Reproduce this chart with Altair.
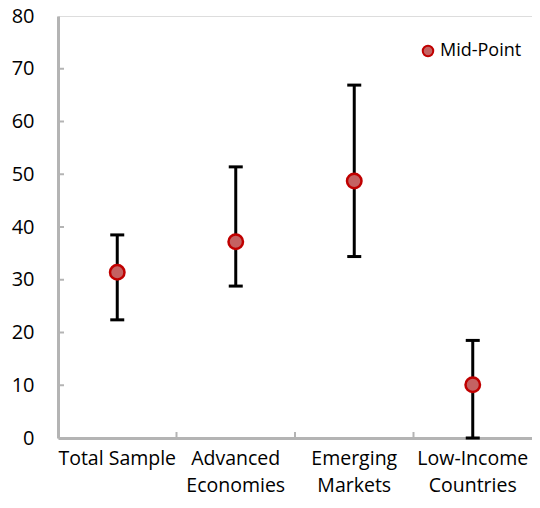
import altair as alt
import pandas as pd

categories = ["Total Sample", "Advanced Economies", "Emerging Markets", "Low-Income Countries"]
low = [22.4, 28.8, 34.4, 0.0]
high = [38.5, 51.4, 66.9, 18.5]
mid = [31.4, 37.2, 48.7, 10.1]
series_name = "Mid-Point"
y_tick_values = [10, 20, 30, 40, 50, 60, 70]
x_boundary_cats = ["Advanced Economies", "Emerging Markets", "Low-Income Countries"]

df = pd.DataFrame({"cat": categories, "low": low, "high": high, "mid": mid,
                   "series": [series_name] * 4})
yt = pd.DataFrame({"v": y_tick_values})
xt = pd.DataFrame({"cat": x_boundary_cats})

FONT = "Open Sans"
GRAY = "#b4b4b4"
W, H = 474, 422

xscale = alt.Scale(domain=categories, paddingInner=0, paddingOuter=0)
yscale = alt.Scale(domain=[0, 80], nice=False)

xenc = alt.X("cat:N", scale=xscale, sort=categories, title=None,
             axis=alt.Axis(labelAngle=0, ticks=False, domainColor=GRAY, domainWidth=3,
                           bandPosition=0.5, labelAlign="center",
                           labelFontSize=19.5, labelFont=FONT, labelColor="#000",
                           labelPadding=20, labelLineHeight=27,
                           labelExpr="datum.label == 'Total Sample' ? datum.label : split(datum.label, ' ')"))
yaxis = alt.Axis(values=[0, 10, 20, 30, 40, 50, 60, 70, 80], ticks=False, grid=False,
                 domainColor=GRAY, domainWidth=3, labelFontSize=20, labelFont=FONT,
                 labelColor="#000", labelPadding=24)

base = alt.Chart(df)

bars = base.mark_rule(color="black", strokeWidth=3).encode(
    x=xenc,
    y=alt.Y("low:Q", scale=yscale, axis=yaxis, title=None),
    y2="high:Q",
)
cap_lo = base.mark_tick(color="black", thickness=3, size=14, opacity=1).encode(
    x=alt.X("cat:N", sort=categories), y=alt.Y("low:Q"))
cap_hi = base.mark_tick(color="black", thickness=3, size=14, opacity=1).encode(
    x=alt.X("cat:N", sort=categories), y=alt.Y("high:Q"))

points = base.mark_point(filled=True, size=210, stroke="#c00000", strokeWidth=2.5,
                         opacity=1, fillOpacity=1, shape="circle").encode(
    x=alt.X("cat:N", sort=categories),
    y=alt.Y("mid:Q"),
    color=alt.Color("series:N", scale=alt.Scale(range=["#c46262"]),
                    legend=alt.Legend(orient="none", legendX=361, legendY=26, title=None,
                                      padding=0, symbolSize=110, symbolStrokeColor="#c00000",
                                      symbolStrokeWidth=2, symbolType="circle",
                                      symbolFillColor="#c46262",
                                      labelFontSize=18, labelFont=FONT, labelColor="#000",
                                      labelOffset=3)),
)

ytick_rules = alt.Chart(yt).mark_rule(color=GRAY, strokeWidth=2).encode(
    y=alt.Y("v:Q"), x=alt.value(0), x2=alt.value(6))
xtick_rules = alt.Chart(xt).mark_rule(color=GRAY, strokeWidth=2).encode(
    x=alt.X("cat:N", sort=categories, bandPosition=0), y=alt.value(H), y2=alt.value(H - 6))

chart = alt.layer(ytick_rules, xtick_rules, bars, cap_lo, cap_hi, points).properties(
    width=W, height=H,
    autosize=alt.AutoSizeParams(type="none"),
    padding={"left": 50, "top": 8, "right": 0, "bottom": 62},
).configure_view(stroke=GRAY, strokeWidth=2).configure(background="white")

chart.save("out.html", embed_options={"renderer": "svg", "actions": False})
